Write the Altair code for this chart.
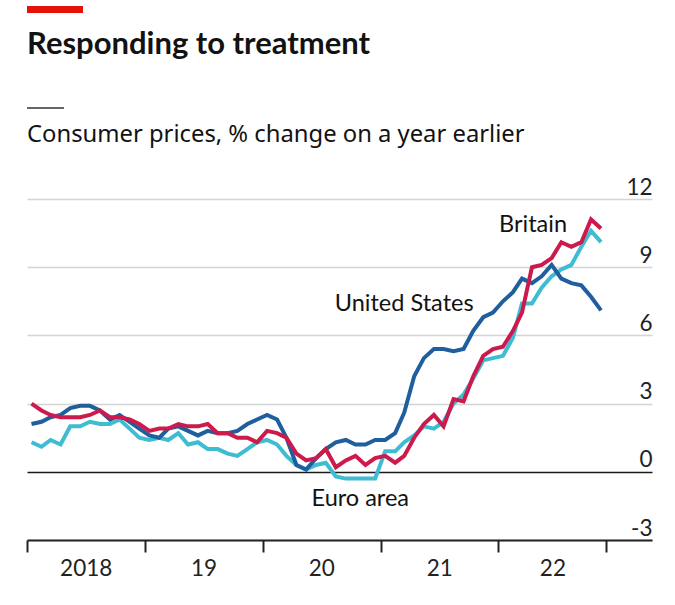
import altair as alt
import pandas as pd

# ---- data (monthly, Jan 2018 - Nov 2022) ----
us = [2.1, 2.2, 2.4, 2.5, 2.8, 2.9, 2.9, 2.7, 2.3, 2.5, 2.2, 1.9,
      1.6, 1.5, 1.9, 2.0, 1.8, 1.6, 1.8, 1.7, 1.7, 1.8, 2.1, 2.3,
      2.5, 2.3, 1.5, 0.3, 0.1, 0.6, 1.0, 1.3, 1.4, 1.2, 1.2, 1.4,
      1.4, 1.7, 2.6, 4.2, 5.0, 5.4, 5.4, 5.3, 5.4, 6.2, 6.8, 7.0,
      7.5, 7.9, 8.5, 8.3, 8.6, 9.1, 8.5, 8.3, 8.2, 7.7, 7.1]
britain = [3.0, 2.7, 2.5, 2.4, 2.4, 2.4, 2.5, 2.7, 2.4, 2.4, 2.3, 2.1,
           1.8, 1.9, 1.9, 2.1, 2.0, 2.0, 2.1, 1.7, 1.7, 1.5, 1.5, 1.3,
           1.8, 1.7, 1.5, 0.8, 0.5, 0.6, 1.0, 0.2, 0.5, 0.7, 0.3, 0.6,
           0.7, 0.4, 0.7, 1.5, 2.1, 2.5, 2.0, 3.2, 3.1, 4.2, 5.1, 5.4,
           5.5, 6.2, 7.0, 9.0, 9.1, 9.4, 10.1, 9.9, 10.1, 11.1, 10.7]
euro = [1.3, 1.1, 1.4, 1.2, 2.0, 2.0, 2.2, 2.1, 2.1, 2.3, 1.9, 1.5,
        1.4, 1.5, 1.4, 1.7, 1.2, 1.3, 1.0, 1.0, 0.8, 0.7, 1.0, 1.3,
        1.4, 1.2, 0.7, 0.3, 0.1, 0.3, 0.4, -0.2, -0.3, -0.3, -0.3, -0.3,
        0.9, 0.9, 1.3, 1.6, 2.0, 1.9, 2.2, 3.0, 3.4, 4.1, 4.9, 5.0,
        5.1, 5.9, 7.4, 7.4, 8.1, 8.6, 8.9, 9.1, 9.9, 10.6, 10.1]

months = [d + pd.Timedelta(days=14) for d in pd.date_range("2018-01-01", periods=len(us), freq="MS")]

series_names = ["Euro area", "United States", "Britain"]
series_values = [euro, us, britain]
series_colors = ["#3EBCD2", "#1F5F9E", "#CC1A4C"]

y_ticks = [-3, 0, 3, 6, 9, 12]

# line labels
label_text = ["Britain", "United States", "Euro area"]
label_date = ["2022-01-03", "2020-08-12", "2020-06-01"]
label_value = [10.55, 7.06, -1.52]

title_text = "Responding to treatment"
subtitle_text = "Consumer prices, % change on a year earlier"

# ---- build table ----
rows = []
for name, vals in zip(series_names, series_values):
    for d, v in zip(months, vals):
        rows.append({"date": d, "value": v, "series": name})
df = pd.DataFrame(rows)

labels_df = pd.DataFrame({"date": pd.to_datetime(label_date), "value": label_value, "text": label_text})

W, H = 625, 341
FONT = "Lato"
TXT = "#121212"

x_scale = alt.Scale(domain=[alt.DateTime(year=2018, month=1, date=1),
                            alt.DateTime(year=2023, month=4, date=22)], nice=False)
y_scale = alt.Scale(domain=[-3, 12], nice=False, zero=False)

x_axis = alt.Axis(
    values=[alt.DateTime(year=y, month=1, date=1) for y in range(2018, 2023)]
    + [alt.DateTime(year=2022, month=12, date=1)],
    title=None, grid=False, domain=True, domainColor="#222", domainWidth=2,
    ticks=True, tickSize=12, tickWidth=2, tickColor="#222",
    labelExpr="year(datum.value) == 2018 ? '2018' : (month(datum.value) == 11 ? '' : timeFormat(datum.value, '%y'))",
    labelOffset=alt.condition("year(datum.value) == 2022", alt.value(54), alt.value(58.7)),
    labelFont=FONT, labelFontSize=22.5, labelColor="#222", labelPadding=5,
    labelOverlap=False, labelFlush=False, labelBound=False,
)
y_axis = alt.Axis(
    orient="right", values=y_ticks, title=None, domain=False, ticks=False, tickSize=0,
    grid=True, gridColor=alt.condition("datum.value === 0", alt.value("#1a1a1a"), alt.value("#d4d4d4")),
    gridWidth=1.6,
    labelExpr="'' + datum.value",
    labelAlign="right", labelBaseline="alphabetic", labelPadding=0, labelOffset=-5,
    labelFont=FONT, labelFontSize=22.5, labelColor="#222", labelFlush=False, labelBound=False,
)

X = alt.X("date:T", scale=x_scale, axis=x_axis)
Y = alt.Y("value:Q", scale=y_scale, axis=y_axis)

base = alt.Chart(df)
layers = []
for name, color in zip(series_names, series_colors):
    layers.append(
        base.transform_filter(alt.datum.series == name)
        .mark_line(color=color, strokeWidth=4)
        .encode(x=X, y=Y)
    )

labels = alt.Chart(labels_df).mark_text(
    align="left", baseline="alphabetic", font=FONT, fontSize=23.5, color=TXT
).encode(x=X, y=Y, text="text:N")

deco = pd.DataFrame({"t": [title_text]})
red_bar = alt.Chart(deco).mark_rule(color="#E3120B", strokeWidth=7).encode(
    x=alt.value(0), x2=alt.value(56), y=alt.value(-189.5))
short_rule = alt.Chart(deco).mark_rule(color="#333", strokeWidth=1.5).encode(
    x=alt.value(0), x2=alt.value(37), y=alt.value(-91))
title = alt.Chart(pd.DataFrame({"t": [title_text]})).mark_text(
    align="left", baseline="alphabetic", font=FONT, fontSize=31, fontWeight="bold", color=TXT
).encode(x=alt.value(0), y=alt.value(-145), text="t:N")
subtitle = alt.Chart(pd.DataFrame({"t": [subtitle_text]})).mark_text(
    align="left", baseline="alphabetic", font="Noto Sans", fontSize=23.8, color=TXT
).encode(x=alt.value(0), y=alt.value(-57), text="t:N")

chart = alt.layer(*layers, labels, red_bar, short_rule, title, subtitle).properties(
    width=W, height=H,
    autosize=alt.AutoSizeParams(type="none"),
    padding={"left": 27, "top": 199, "right": 23, "bottom": 65},
    background="white",
).configure_view(stroke=None)

chart.save("out.html", embed_options={"renderer": "svg", "actions": False})
